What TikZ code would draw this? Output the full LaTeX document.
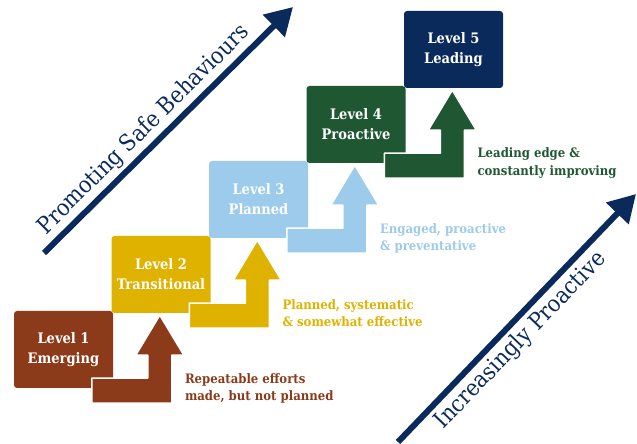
\documentclass[tikz,border=0pt]{standalone}
\usepackage{fontspec}
\setmainfont{DejaVu Serif}
\newfontfamily\slabcond{DejaVu Serif Condensed}
\usepackage{tikz}
\usetikzlibrary{arrows.meta}
\definecolor{lvlbrown}{HTML}{8B3A1A}
\definecolor{lvlgold}{HTML}{E0B200}
\definecolor{lvlsky}{HTML}{9CCBEB}
\definecolor{lvlgreen}{HTML}{1F5733}
\definecolor{lvlnavy}{HTML}{0A2A5C}
\tikzset{lvl/.style={rectangle,rounded corners=3pt,minimum width=99pt,minimum height=77pt,inner sep=0pt,align=center,text=white,font=\slabcond\bfseries\fontsize{14.5}{20}\selectfont}}
\tikzset{stair/.style={draw=white,line width=1.5pt,line join=round}}
\tikzset{desc/.style={anchor=west,align=left,inner sep=0pt,font=\slabcond\bfseries\fontsize{13}{17.5}\selectfont}}
\tikzset{trend/.style={draw=lvlnavy,line width=6pt,-{Triangle[length=27pt,width=30pt]}}}
\tikzset{trendtext/.style={sloped,inner sep=0pt,text=lvlnavy,font=\slabcond\fontsize{23}{26}\selectfont}}

\begin{document}
\begin{tikzpicture}[x=1pt,y=1pt]
    \useasboundingbox (0,0) rectangle (637,444);

    % the five levels
    \node[lvl,fill=lvlbrown] (l1)at (63.5,94.5) {Level 1\\Emerging};
    \node[lvl,fill=lvlgold] (l2)at (161,169.5) {Level 2\\Transitional};
    \node[lvl,fill=lvlsky] (l3)at (258.5,244.5) {Level 3\\Planned};
    \node[lvl,fill=lvlgreen] (l4)at (356,319.5) {Level 4\\Proactive};
    \node[lvl,fill=lvlnavy] (l5)at (453.5,394.5) {Level 5\\Leading};

    % step arrows
    \draw[stair,fill=lvlbrown] ([xshift=78pt,yshift=-15pt]l1.south west) -- ++(80,0) -- ++(0,48) -- ++(12,0) -- ++(-24,40) -- ++(-24,-40) -- ++(12,0) -- ++(0,-23) -- ++(-56,0) -- cycle;
    \draw[stair,fill=lvlgold] ([xshift=78pt,yshift=-15pt]l2.south west) -- ++(80,0) -- ++(0,48) -- ++(12,0) -- ++(-24,40) -- ++(-24,-40) -- ++(12,0) -- ++(0,-23) -- ++(-56,0) -- cycle;
    \draw[stair,fill=lvlsky] ([xshift=78pt,yshift=-15pt]l3.south west) -- ++(80,0) -- ++(0,48) -- ++(12,0) -- ++(-24,40) -- ++(-24,-40) -- ++(12,0) -- ++(0,-23) -- ++(-56,0) -- cycle;
    \draw[stair,fill=lvlgreen] ([xshift=78pt,yshift=-15pt]l4.south west) -- ++(80,0) -- ++(0,48) -- ++(12,0) -- ++(-24,40) -- ++(-24,-40) -- ++(12,0) -- ++(0,-23) -- ++(-56,0) -- cycle;

    \node[desc,text=lvlbrown] (d1)at ([xshift=171pt]l1.south west) {Repeatable efforts\\made, but not planned};
    \node[desc,text=lvlgold] (d2)at ([xshift=171pt]l2.south west) {Planned, systematic\\\& somewhat effective};
    \node[desc,text=lvlsky] (d3)at ([xshift=171pt]l3.south west) {Engaged, proactive\\\& preventative};
    \node[desc,text=lvlgreen] (d4)at ([xshift=171pt]l4.south west) {Leading edge \&\\constantly improving};

    % the two trend arrows
    \coordinate (p0)at (44,191);
    \coordinate (p1)at (293,437);
    \coordinate (q0)at (398,2);
    \coordinate (q1)at (636,250);
    \draw[trend] (p0) -- node[trendtext,pos=0.45,above=3pt] (pt) {Promoting Safe Behaviours} (p1);
    \draw[trend] (q0) -- node[trendtext,pos=0.46,below=4pt] (qt) {Increasingly Proactive} (q1);
\end{tikzpicture}
\end{document}
